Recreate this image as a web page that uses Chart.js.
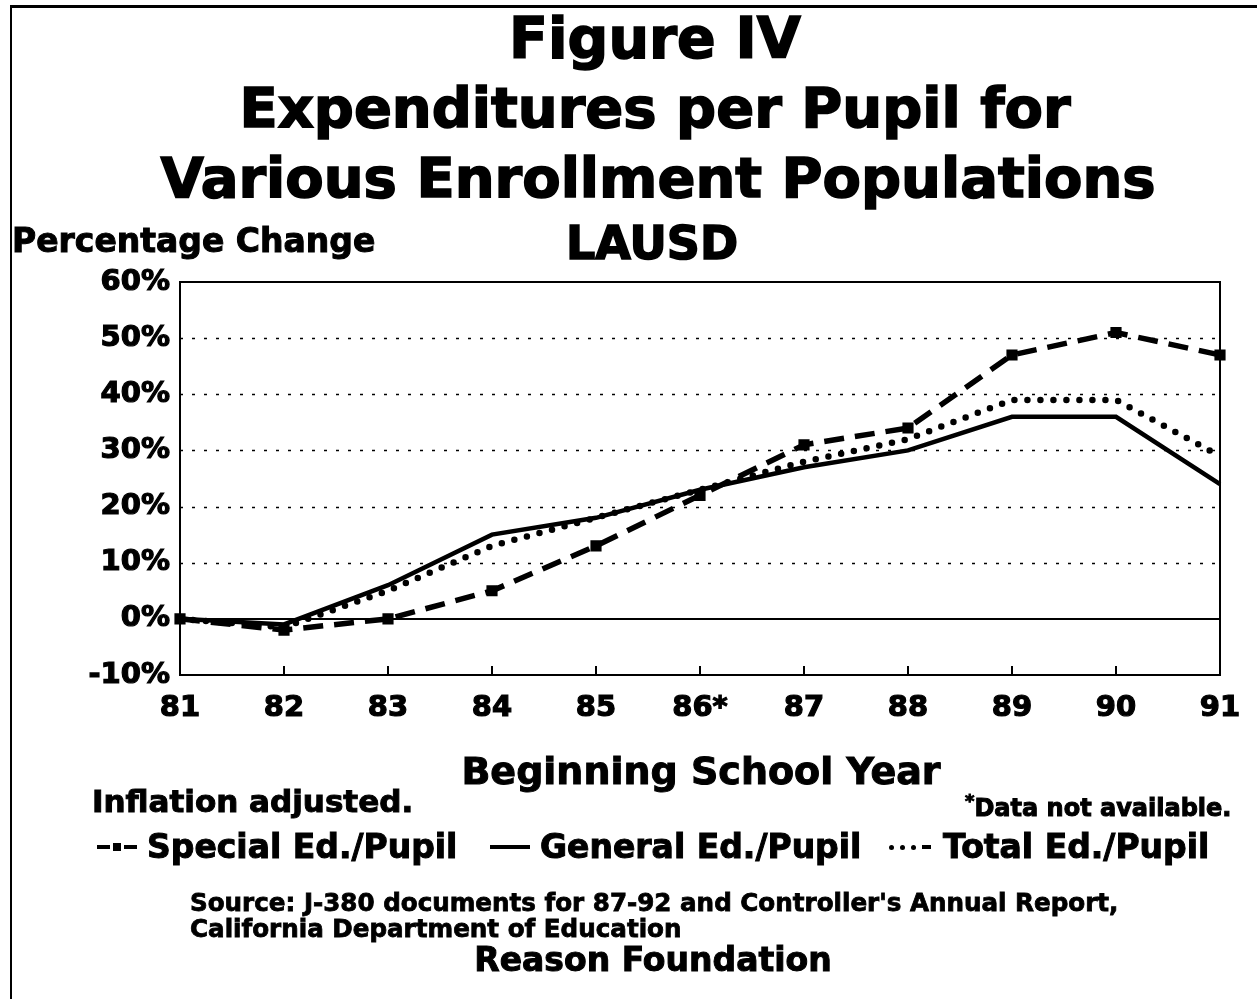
<!DOCTYPE html>
<html>
<head>
<meta charset="utf-8">
<script src="https://cdn.jsdelivr.net/npm/chart.js@4"></script>
<style>
  html, body { margin: 0; padding: 0; background: #fff; }
  body { width: 1257px; height: 999px; position: relative; overflow: hidden;
         font-family: "DejaVu Sans", "Liberation Sans", Arial, sans-serif; font-weight: bold; color: #000; }
  .frame { position: absolute; left: 10px; top: 5px; right: 0; bottom: 0;
           border-left: 2px solid #000; border-top: 3px solid #000; }
  #chart { position: absolute; left: 0; top: 0; }
  .t { position: absolute; white-space: nowrap; line-height: 1; -webkit-text-stroke: 1px #000; }
  .big { -webkit-text-stroke: 1.6px #000; }
  .c { transform: translateX(-50%); }
  .leg { position: absolute; top: 844px; height: 6px; display: flex; align-items: center; }
  .dash { width: 13px; height: 4px; background: #000; margin-right: 3px; }
  .sq { width: 8px; height: 8px; background: #000; margin-right: 3px; }
  .dot { width: 5px; height: 5px; background: #000; border-radius: 50%; margin-right: 6px; }
</style>
</head>
<body>
<div class="frame"></div>
<canvas id="chart" width="1257" height="999"></canvas>

<div class="t c big" style="left:655px; top:10px; font-size:57px;">Figure IV</div>
<div class="t c big" style="left:655px; top:80px; font-size:56px;">Expenditures per Pupil for</div>
<div class="t c big" style="left:658px; top:150px; font-size:56px;">Various Enrollment Populations</div>
<div class="t c big" style="left:652px; top:220px; font-size:46px;">LAUSD</div>
<div class="t" style="left:12px; top:224px; font-size:33px;">Percentage Change</div>

<div class="t c" style="left:701px; top:752px; font-size:38px;">Beginning School Year</div>
<div class="t" style="left:92px; top:786px; font-size:31px;">Inflation adjusted.</div>
<div class="t" style="left:965px; top:792px; font-size:24px;"><sup style="font-size:18px;">*</sup>Data not available.</div>

<div class="leg" style="left:97px;"><div class="dash"></div><div class="sq"></div><div class="dash"></div></div>
<div class="t" style="left:147px; top:830px; font-size:33px;">Special Ed./Pupil</div>
<div class="leg" style="left:490px;"><div style="width:40px; height:4px; background:#000;"></div></div>
<div class="t" style="left:540px; top:830px; font-size:33px;">General Ed./Pupil</div>
<div class="leg" style="left:889px;"><div class="dot"></div><div class="dot"></div><div class="dot"></div><div class="dash" style="width:9px;"></div></div>
<div class="t" style="left:943px; top:830px; font-size:33px;">Total Ed./Pupil</div>

<div class="t" style="left:190px; top:891px; font-size:24.6px; -webkit-text-stroke:0.8px #000;">Source: J-380 documents for 87-92 and Controller's Annual Report,</div>
<div class="t" style="left:190px; top:917px; font-size:24.6px; -webkit-text-stroke:0.8px #000;">California Department of Education</div>
<div class="t c" style="left:653px; top:943px; font-size:33px;">Reason Foundation</div>

<script>
const years = ["81", "82", "83", "84", "85", "86*", "87", "88", "89", "90", "91"];
const specialEd = [0, -2, 0, 5, 13, 22, 31, 34, 47, 51, 47];
const generalEd = [0, -1, 6, 15, 18, 23, 27, 30, 36, 36, 24];
const totalEd = [0, -1.5, 5, 13, 18, 23, 28, 32, 39, 39, 29];
const yTicks = [-10, 0, 10, 20, 30, 40, 50, 60];

const fontFamily = '"DejaVu Sans", "Liberation Sans", Arial, sans-serif';

// plot frame, dotted gridlines and inside tick marks
const framePlugin = {
  id: "framePlugin",
  beforeDatasetsDraw(chart) {
    const ctx = chart.ctx;
    const a = chart.chartArea;
    const y = chart.scales.y;
    const x = chart.scales.x;
    ctx.save();
    ctx.strokeStyle = "#000";
    ctx.lineWidth = 1.5;
    ctx.setLineDash([3, 9]);
    for (const v of yTicks) {
      if (v <= 0 || v >= 60) continue;
      const py = Math.round(y.getPixelForValue(v)) + 0.5;
      ctx.beginPath();
      ctx.moveTo(a.left, py);
      ctx.lineTo(a.right, py);
      ctx.stroke();
    }
    ctx.setLineDash([]);
    ctx.lineWidth = 2;
    const p0 = Math.round(y.getPixelForValue(0));
    ctx.beginPath();
    ctx.moveTo(a.left, p0);
    ctx.lineTo(a.right, p0);
    ctx.stroke();
    ctx.beginPath();
    ctx.moveTo(a.left, a.top);
    ctx.lineTo(a.right, a.top);
    ctx.lineTo(a.right, a.bottom);
    ctx.stroke();
    for (let i = 1; i < years.length - 1; i++) {
      const px = Math.round(x.getPixelForValue(i));
      ctx.beginPath();
      ctx.moveTo(px, a.bottom);
      ctx.lineTo(px, a.bottom - 9);
      ctx.stroke();
    }
    ctx.restore();
  }
};

new Chart(document.getElementById("chart"), {
  type: "line",
  data: {
    labels: years,
    datasets: [
      {
        label: "Special Ed./Pupil",
        data: specialEd,
        borderColor: "#000",
        backgroundColor: "#000",
        borderWidth: 5.5,
        borderDash: [20, 11],
        pointStyle: "rect",
        pointRadius: 4,
        tension: 0
      },
      {
        label: "General Ed./Pupil",
        data: generalEd,
        borderColor: "#000",
        borderWidth: 4.5,
        pointRadius: 0,
        tension: 0
      },
      {
        label: "Total Ed./Pupil",
        data: totalEd,
        borderColor: "#000",
        borderWidth: 6.5,
        borderDash: [0, 13],
        borderCapStyle: "round",
        pointRadius: 0,
        tension: 0
      }
    ]
  },
  options: {
    responsive: false,
    animation: false,
    layout: { padding: { left: 0, top: 282, right: 37, bottom: 264 } },
    plugins: {
      legend: { display: false },
      tooltip: { enabled: false }
    },
    scales: {
      x: {
        type: "category",
        offset: false,
        grid: { display: false, drawTicks: false },
        border: { display: true, color: "#000", width: 2 },
        ticks: {
          color: "#000",
          padding: 16,
          maxRotation: 0,
          textStrokeColor: "#000",
          textStrokeWidth: 1.2,
          font: { family: fontFamily, size: 29, weight: "bold" }
        },
        afterFit(scale) { scale.height = 60; }
      },
      y: {
        min: -10,
        max: 60,
        afterBuildTicks(scale) { scale.ticks = yTicks.map(v => ({ value: v })); },
        grid: { display: false, drawTicks: false },
        border: { display: true, color: "#000", width: 2 },
        ticks: {
          color: "#000",
          padding: 10,
          textStrokeColor: "#000",
          textStrokeWidth: 1.2,
          font: { family: fontFamily, size: 29, weight: "bold" },
          callback: v => v + "%"
        },
        afterFit(scale) { scale.width = 180; }
      }
    }
  },
  plugins: [framePlugin]
});
</script>
</body>
</html>
